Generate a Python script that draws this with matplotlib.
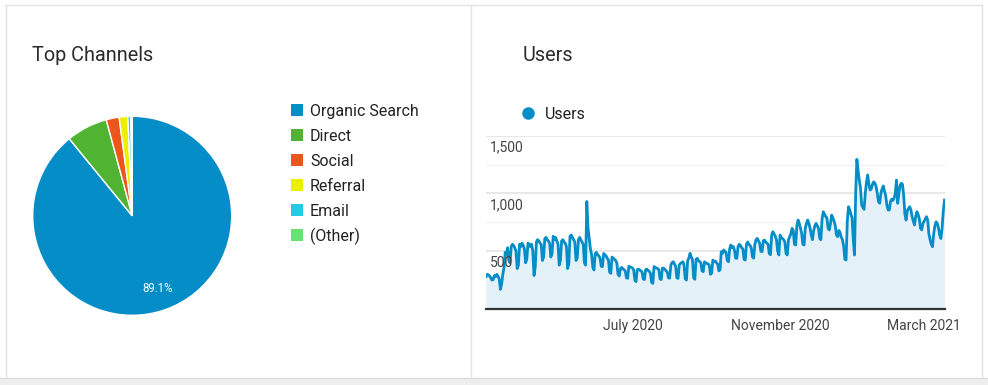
import matplotlib
matplotlib.use("Agg")
import matplotlib.pyplot as plt
from matplotlib.patches import Rectangle
import pandas as pd

# ---------------- data ----------------
channels = ["Organic Search", "Direct", "Social", "Referral", "Email", "(Other)"]
channel_share = [89.1, 6.7, 2.1, 1.4, 0.5, 0.2]
channel_colors = ["#058dc7", "#50b432", "#ed561b", "#edef00", "#24cbe5", "#64e572"]

start_date = "2020-03-01"
users = [
    280, 300, 295, 285, 270, 250, 255,
    290, 280, 300, 285, 260, 170, 215,
    300, 360, 490, 470, 530, 420, 400,
    540, 560, 550, 530, 500, 350, 380,
    560, 540, 570, 550, 520, 400, 430,
    570, 560, 540, 560, 500, 290, 360,
    580, 600, 590, 570, 560, 420, 450,
    610, 620, 600, 590, 570, 450, 480,
    630, 600, 620, 590, 560, 380, 420,
    590, 600, 580, 570, 540, 350, 390,
    630, 640, 620, 600, 580, 420, 440,
    600, 620, 600, 580, 560, 400, 380,
    930, 700, 610, 520, 470, 360, 338,
    480, 490, 470, 460, 440, 370, 367,
    480, 470, 460, 440, 425, 320, 309,
    450, 440, 430, 420, 400, 300, 286,
    350, 360, 350, 340, 330, 270, 266,
    370, 365, 360, 355, 340, 250, 237,
    340, 345, 338, 330, 320, 260, 255,
    340, 345, 335, 325, 310, 230, 222,
    367, 360, 355, 350, 340, 260, 255,
    355, 352, 345, 330, 320, 270, 266,
    380, 400, 409, 390, 370, 270, 265,
    380, 395, 400, 409, 380, 260, 251,
    420, 440, 482, 450, 430, 270, 257,
    430, 439, 420, 410, 400, 330, 323,
    409, 400, 395, 390, 380, 300, 310,
    424, 410, 415, 400, 390, 330, 340,
    496, 480, 511, 500, 490, 420, 409,
    520, 554, 530, 540, 510, 440, 439,
    540, 560, 550, 530, 520, 430, 424,
    560, 580, 560, 550, 530, 450, 440,
    560, 600, 611, 590, 570, 500, 496,
    590, 597, 580, 570, 560, 480, 470,
    640, 669, 650, 630, 600, 500, 468,
    640, 620, 610, 600, 580, 480, 468,
    600, 626, 650, 698, 680, 560, 554,
    720, 770, 740, 700, 655, 560, 554,
    700, 740, 770, 740, 700, 640, 600,
    680, 720, 741, 720, 700, 612, 600,
    780, 842, 820, 800, 790, 700, 684,
    740, 813, 790, 760, 720, 640, 626,
    680, 660, 620, 600, 540, 430, 424,
    760, 885, 860, 820, 790, 600, 467,
    1000, 1295, 1200, 1116, 1050, 900, 880,
    863, 1000, 1100, 1160, 1080, 1030, 1040,
    1080, 1100, 1090, 1060, 1000, 930, 915,
    1000, 1040, 1065, 1020, 980, 900, 857,
    857, 930, 950, 940, 960, 1000, 1116,
    915, 1000, 1070, 1088, 1080, 980, 820,
    770, 850, 870, 885, 860, 800, 760,
    727, 800, 842, 820, 780, 700, 684,
    740, 760, 780, 799, 770, 650, 600,
    560, 539, 650, 720, 755, 740, 700,
    640, 610, 700, 850, 943,
]
y_ticks = [500, 1000, 1500]
y_tick_labels = ["500", "1,000", "1,500"]
x_tick_dates = ["2020-07-01", "2020-11-01", "2021-03-01"]
x_tick_labels = ["July 2020", "November 2020", "March 2021"]

# ---------------- figure ----------------
W, H = 988, 385
plt.rcParams["font.family"] = ["Roboto", "DejaVu Sans"]
fig = plt.figure(figsize=(W / 100, H / 100), dpi=100)
fig.patch.set_facecolor("white")


def fx(x):
    return x / W


def fy(y):
    return 1 - y / H


def rect(x0, y0, x1, y1):
    return [fx(x0), fy(y1), (x1 - x0) / W, (y1 - y0) / H]


# card borders
border = "#e3e3e3"
fig.add_artist(Rectangle((fx(0), fy(385)), 1, (385 - 378) / H, transform=fig.transFigure,
                         facecolor="#eeeeee", edgecolor="none"))
fig.add_artist(plt.Line2D([fx(0), fx(988)], [fy(378), fy(378)], transform=fig.transFigure,
                          color="#dcdcdc", lw=1))
fig.add_artist(plt.Line2D([fx(5), fx(982)], [fy(4.5), fy(4.5)], transform=fig.transFigure,
                          color=border, lw=1))
for xx in (5.5, 471, 982):
    fig.add_artist(plt.Line2D([fx(xx), fx(xx)], [fy(4.5), fy(378)], transform=fig.transFigure,
                              color=border, lw=1))

# titles
fig.text(fx(32), fy(61), "Top Channels", fontsize=14.3, color="#2b2b2b", va="baseline", ha="left")
fig.text(fx(523), fy(61), "Users", fontsize=14.3, color="#2b2b2b", va="baseline", ha="left")

# ---------------- pie ----------------
cx, cy, r = 132.2, 215.8, 99.5
ax_p = fig.add_axes(rect(cx - r, cy - r, cx + r, cy + r))
wedges, _ = ax_p.pie(channel_share, colors=channel_colors, startangle=90, counterclock=False,
                     radius=1, wedgeprops=dict(edgecolor="white", linewidth=1))
ax_p.set_xlim(-1, 1)
ax_p.set_ylim(-1, 1)
ax_p.set_aspect("equal")
ax_p.axis("off")
# percentage label for the main slice
fig.text(fx(158), fy(289), f"{channel_share[0]:.1f}%", fontsize=8.3, color="white",
         ha="center", va="center")

# legend
for i, (name, col) in enumerate(zip(channels, channel_colors)):
    yb = 116 + 25 * i
    fig.add_artist(Rectangle((fx(291), fy(yb)), 12 / W, 12.5 / H, transform=fig.transFigure,
                             facecolor=col, edgecolor="none"))
    fig.text(fx(310), fy(yb), name, fontsize=11.5, color="#222222", va="baseline", ha="left")

# ---------------- line chart ----------------
dates = pd.date_range(start_date, periods=len(users), freq="D")
ax = fig.add_axes(rect(486, 135.7, 944.5, 309))
ax.set_facecolor("none")
ax.fill_between(dates, users, 0, color="#e5f1f8", lw=0, zorder=1)
ax.plot(dates, users, color="#058dc7", lw=2, zorder=3, solid_joinstyle="round")
ax.set_xlim(dates[0], dates[-1])
ax.set_ylim(0, 1500)
for v in range(250, 1501, 250):
    major = v % 500 == 0
    ax.axhline(v, color="#e6e6e6" if major else "#f3f3f3", lw=1.3 if major else 1, zorder=0)
ax.axhline(0, color="#333333", lw=1.6, zorder=4, clip_on=False)
for s in ax.spines.values():
    s.set_visible(False)
ax.set_yticks([])
ax.set_xticks(pd.to_datetime(x_tick_dates))
ax.set_xticklabels(x_tick_labels, fontsize=10, color="#444444")
ax.tick_params(axis="x", length=0, pad=7)
for v, lab in zip(y_ticks, y_tick_labels):
    yl = 309 - v * (309 - 135.7) / 1500 + 16
    fig.text(fx(489.5), fy(yl), lab, fontsize=10, color="#444444", va="baseline", ha="left")

# series legend
fig.add_artist(plt.Line2D([fx(528)], [fy(113)], transform=fig.transFigure, marker="o",
                          markersize=9, markerfacecolor="#058dc7", markeredgecolor="none",
                          linestyle="none"))
fig.text(fx(545), fy(119), "Users", fontsize=11.5, color="#222222", va="baseline", ha="left")

fig.savefig("out.png", dpi=100)
